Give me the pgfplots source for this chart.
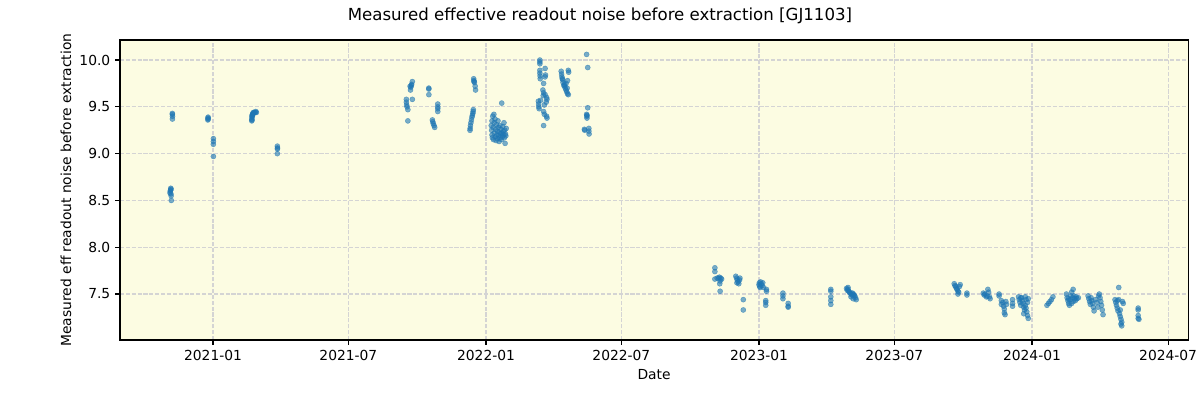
\documentclass[border=0pt]{standalone}
\usepackage{fontspec}
\setmainfont{DejaVu Sans}
\usepackage{pgfplots}
\pgfplotsset{compat=1.18}
\definecolor{bgyel}{HTML}{FCFCE2}
\definecolor{tabblue}{HTML}{1F77B4}
\definecolor{gridgray}{HTML}{D4D4D4}

% x = days since 2021-01-01
\begin{document}
\begin{tikzpicture}
\begin{axis}[
  name=ax,
  scale only axis,
  width=771.9pt, height=216.8pt,
  xmin=-124.4, xmax=1303.7,
  ymin=7.009, ymax=10.214,
  axis background/.style={fill=bgyel},
  xtick={0,181,365,546,730,911,1095,1277},
  xticklabels={2021-01,2021-07,2022-01,2022-07,2023-01,2023-07,2024-01,2024-07},
  ytick={7.5,8,8.5,9,9.5,10},
  /pgf/number format/assume math mode=true,
  y tick label style={/pgf/number format/.cd, fixed, fixed zerofill, precision=1},
  tick label style={font=\fontsize{10}{12}\selectfont},
  tick pos=left,
  tick align=outside,
  major tick length=3.5pt,
  tick style={black, line width=0.8pt},
  axis line style={line width=0.8pt},
  grid=major,
  major grid style={gridgray, line width=0.8pt, dash pattern=on 2.96pt off 1.28pt},
]
\addplot[only marks, mark=*, mark size=1.85pt,
  mark options={fill=tabblue, draw=tabblue, line width=0.3pt, fill opacity=0.6, draw opacity=0.6}]
coordinates {
  (-56.5,8.63) (-56.8,8.61) (-57.2,8.60) (-56.0,8.62) (-57.5,8.58) (-56.3,8.57) (-56.0,8.55) (-55.8,8.50)
  (-54.4,9.43) (-54.4,9.42) (-54.2,9.40) (-54.3,9.37)
  (-6.7,9.38) (-6.5,9.37) (-6.9,9.36) (-6.6,9.39)
  (0.5,9.16) (0.5,9.13) (0.4,9.10) (0.5,8.97)
  (51.8,9.35) (51.9,9.37) (52.0,9.39) (52.2,9.41) (52.5,9.40) (52.8,9.42) (53.2,9.43) (54.0,9.44)
  (55.0,9.44) (56.5,9.44) (58.0,9.44) (52.1,9.36) (53.5,9.42) (57.2,9.45)
  (86.0,9.08) (86.2,9.06) (86.1,9.05) (86.0,9.00)
  (258.5,9.58) (258.5,9.55) (258.8,9.52) (259.5,9.50) (260.5,9.47) (260.5,9.35) (263.5,9.72)
  (264.5,9.71) (265.5,9.74) (266.5,9.77) (266.5,9.58) (265.2,9.73) (264.0,9.68)
  (288.5,9.70) (288.5,9.69) (288.6,9.63)
  (293.3,9.36) (293.8,9.34) (294.5,9.32) (295.5,9.30) (296.4,9.28)
  (300.5,9.53) (300.5,9.50) (300.5,9.48) (300.5,9.45)
  (348.5,9.80) (348.8,9.78) (349.5,9.76) (350.5,9.72) (351.0,9.68) (349.0,9.77)
  (343.6,9.25) (343.8,9.27) (344.2,9.30) (344.8,9.33) (345.5,9.36) (346.2,9.39) (346.8,9.41)
  (347.4,9.43) (347.8,9.45) (348.0,9.47)
  (372,9.30) (372.5,9.25) (373,9.35) (373,9.20) (373.5,9.17) (374,9.40) (374.5,9.28) (375,9.15)
  (375.5,9.42) (376,9.33) (376,9.22) (377,9.37) (377.5,9.18) (378,9.26) (378.5,9.14) (379,9.31)
  (379.5,9.20) (380,9.24) (380.5,9.16) (381,9.35) (381.5,9.28) (382,9.19) (382.5,9.13) (383,9.23)
  (383.5,9.30) (384,9.17) (384.5,9.21) (385,9.26) (385.5,9.15) (386,9.54) (386.5,9.22) (387,9.18)
  (387.5,9.29) (388,9.24) (388.5,9.20) (389,9.33) (389.5,9.17) (390,9.25) (390.5,9.11) (391,9.21)
  (392,9.27) (391.5,9.19)
  (437,10.00) (437,9.98) (437,9.96) (437,9.89) (437,9.86) (437.3,9.83) (437.5,9.80) (444,9.91)
  (444.5,9.84) (444,9.82) (442,9.75) (441,9.68) (442,9.65) (441.5,9.62) (435,9.56) (435.3,9.53)
  (435.5,9.50) (436,9.48) (446,9.60) (446.5,9.58) (445.5,9.55) (443,9.52) (442,9.45) (443,9.42)
  (446,9.40) (446.5,9.38) (442,9.30) (438,9.57) (444,9.63)
  (465.5,9.88) (466,9.85) (466.5,9.82) (467,9.80) (468,9.76) (469,9.73) (470,9.72) (471,9.70)
  (472,9.68) (473,9.66) (474,9.64) (475,9.63) (475,9.89) (475.5,9.87) (474,9.78) (472,9.75)
  (470,9.74) (473.5,9.70) (467.5,9.79)
  (499.5,10.06) (501,9.92) (501,9.49) (499.5,9.42) (499.8,9.40) (500,9.38) (496.5,9.26) (497,9.25)
  (502.5,9.27) (502.5,9.24) (502.8,9.21) (500,9.41)
  (671,7.78) (671,7.74) (671,7.66) (674,7.67) (676,7.67) (677,7.68) (679,7.67) (678,7.64)
  (677.5,7.61) (678,7.53) (680,7.66)
  (699,7.69) (700,7.67) (701,7.65) (702,7.63) (703,7.61) (704,7.65) (704.5,7.67) (700.5,7.62)
  (709,7.44) (709,7.33)
  (730,7.60) (730.5,7.62) (731,7.58) (732,7.63) (733,7.61) (734,7.59) (735,7.62) (736,7.57) (731.5,7.57)
  (740,7.55) (740,7.53) (739,7.43) (739,7.41) (739,7.38)
  (762,7.51) (762,7.48) (762,7.45)
  (769,7.40) (769,7.37) (769,7.36)
  (826,7.55) (826,7.53) (826,7.47) (826,7.43) (826,7.39)
  (847,7.56) (848,7.54) (849,7.55) (850,7.53) (851,7.52) (852,7.51) (853,7.50) (854,7.49)
  (855,7.51) (856,7.50) (857,7.49) (858,7.48) (859,7.46) (860,7.44) (853,7.47) (856,7.45) (849,7.57)
  (991,7.61) (992,7.59) (993,7.58) (994,7.56) (995,7.55) (996,7.53) (997,7.52) (998,7.58) (999,7.60) (996,7.50)
  (1008,7.51) (1008,7.49)
  (1030,7.51) (1031,7.49) (1032,7.50) (1034,7.47) (1036,7.55) (1037,7.52) (1038,7.47) (1039,7.45) (1035,7.48)
  (1051,7.50) (1051,7.48)
  (1054,7.43) (1054,7.39) (1056,7.41) (1057,7.37) (1058,7.30) (1059,7.28) (1060,7.42) (1061,7.39) (1058,7.34)
  (1069,7.44) (1069,7.40) (1069,7.37)
  (1077,7.47) (1078,7.44) (1079,7.41) (1080,7.38) (1081,7.46) (1082,7.43) (1083,7.40) (1084,7.36)
  (1085,7.33) (1086,7.47) (1087,7.44) (1088,7.31) (1089,7.27) (1090,7.24) (1086,7.38) (1084,7.29)
  (1090,7.45) (1089,7.41) (1080,7.46) (1087,7.35)
  (1115,7.38) (1117,7.40) (1119,7.42) (1121,7.44) (1123,7.47)
  (1141,7.50) (1142,7.46) (1143,7.43) (1144,7.40) (1145,7.38) (1146,7.44) (1147,7.48) (1148,7.52)
  (1149,7.46) (1150,7.42) (1151,7.48) (1152,7.45) (1153,7.43) (1154,7.47) (1155,7.45) (1157,7.46)
  (1148,7.40) (1150,7.55) (1144,7.45)
  (1170,7.48) (1171,7.45) (1172,7.42) (1173,7.39) (1174,7.46) (1175,7.43) (1176,7.40) (1177,7.36)
  (1178,7.32) (1180,7.44) (1182,7.41) (1184,7.48) (1185,7.50) (1186,7.46) (1187,7.42) (1188,7.38)
  (1189,7.33) (1190,7.28) (1183,7.36)
  (1206,7.44) (1207,7.41) (1208,7.38) (1209,7.35) (1210,7.32) (1211,7.57) (1211,7.44) (1212,7.29)
  (1213,7.26) (1214,7.23) (1214,7.18) (1215,7.16) (1216,7.42) (1217,7.40) (1209,7.43) (1213,7.33) (1215,7.20)
  (1237,7.35) (1237,7.33) (1237,7.27) (1237,7.24) (1238,7.23)
};
\end{axis}
\node[font=\fontsize{12}{14}\selectfont] at ([xshift=346.9pt, yshift=17.3pt]ax.north west)
  {Measured effective readout noise before extraction [GJ1103]};
\node[rotate=90, font=\fontsize{10}{12}\selectfont] at ([xshift=-39.0pt]ax.west)
  {Measured eff readout noise before extraction};
\node[font=\fontsize{10}{12}\selectfont] at ([yshift=-25.3pt]ax.south) {Date};
\pgfresetboundingbox
\path[use as bounding box] ([xshift=-86.72pt, yshift=-43.36pt]ax.south west) rectangle ++(867.24pt,289.08pt);
\end{tikzpicture}
\end{document}
